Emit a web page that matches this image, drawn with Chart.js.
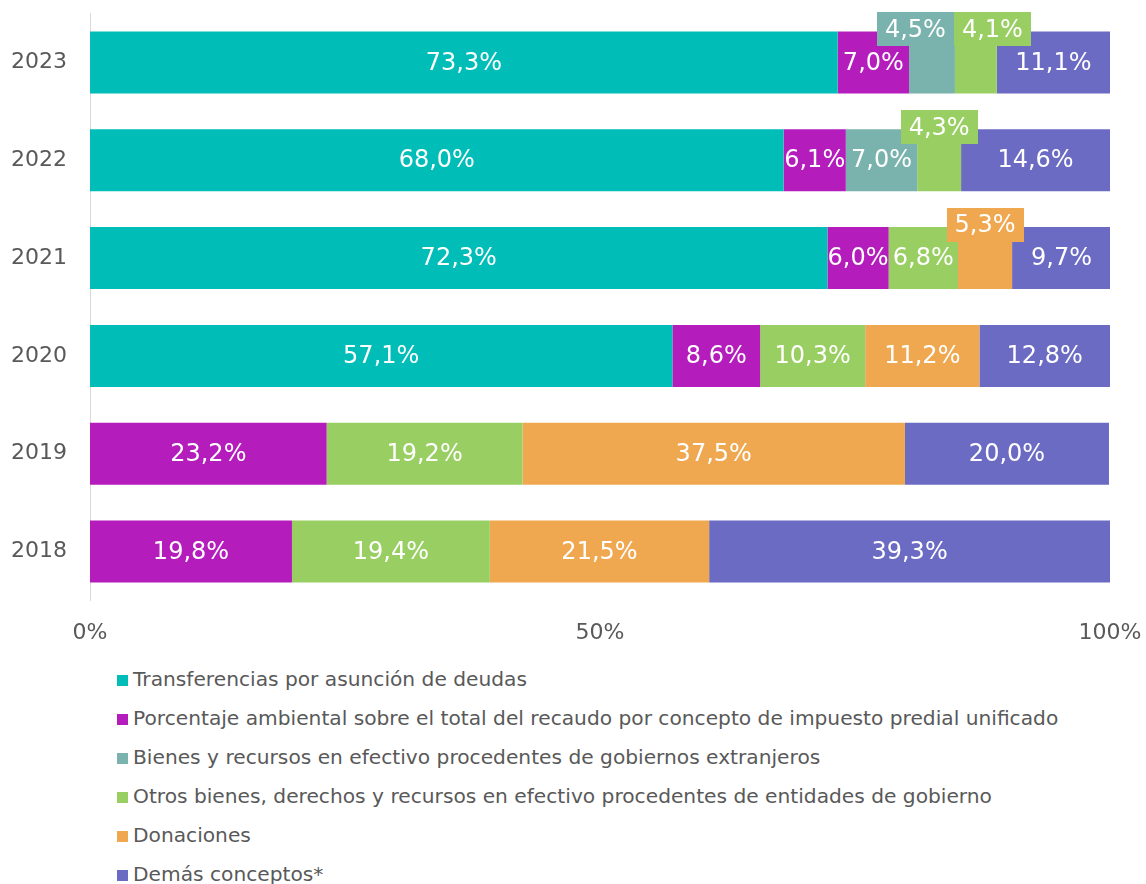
<!DOCTYPE html>
<html>
<head>
<meta charset="utf-8">
<script src="https://cdn.jsdelivr.net/npm/chart.js@4"></script>
<style>
  html, body { margin: 0; padding: 0; background: #fff; }
  body { width: 1146px; height: 884px; overflow: hidden; font-family: Verdana, "DejaVu Sans", sans-serif; }
  #wrap { position: relative; width: 1146px; height: 655px; }
  #legend { list-style: none; margin: 0; padding: 0; position: absolute; left: 117px; top: 660px; }
  #legend li { height: 39px; line-height: 39px; font-size: 20.2px; color: #595959; white-space: nowrap; }
  #legend i { display: inline-block; width: 11px; height: 11px; margin-right: 5px; vertical-align: 0; }
</style>
</head>
<body>
<div id="wrap"><canvas id="chart"></canvas></div>
<ul id="legend"></ul>
<script>
const FONT = 'Verdana, "DejaVu Sans", sans-serif';
const INK = '#595959';

const years = ['2023', '2022', '2021', '2020', '2019', '2018'];
const seriesNames = [
  'Transferencias por asunción de deudas',
  'Porcentaje ambiental sobre el total del recaudo por concepto de impuesto predial unificado',
  'Bienes y recursos en efectivo procedentes de gobiernos extranjeros',
  'Otros bienes, derechos y recursos en efectivo procedentes de entidades de gobierno',
  'Donaciones',
  'Demás conceptos*',
];
const seriesColors = ['#00bdb8', '#b41cbc', '#7ab3ad', '#99cf62', '#f0a850', '#6c6bc4'];

const transferencias = [73.3, 68.0, 72.3, 57.1, 0, 0];
const ambiental = [7.0, 6.1, 6.0, 8.6, 23.2, 19.8];
const extranjeros = [4.5, 7.0, 0, 0, 0, 0];
const otrosBienes = [4.1, 4.3, 6.8, 10.3, 19.2, 19.4];
const donaciones = [0, 0, 5.3, 11.2, 37.5, 21.5];
const demas = [11.1, 14.6, 9.7, 12.8, 20.0, 39.3];
const seriesValues = [transferencias, ambiental, extranjeros, otrosBienes, donaciones, demas];

const xTicks = [0, 50, 100];

const fmt = (v) => v.toFixed(1).replace('.', ',') + '%';

// Labels inside each segment; when the text does not fit, put it in a box above the bar
const segmentLabels = {
  id: 'segmentLabels',
  afterDatasetsDraw(chart) {
    const ctx = chart.ctx;
    ctx.save();
    ctx.font = '24px ' + FONT;
    ctx.textAlign = 'center';
    ctx.textBaseline = 'middle';
    const callouts = {};
    chart.data.datasets.forEach((ds, di) => {
      chart.getDatasetMeta(di).data.forEach((bar, i) => {
        const v = ds.data[i];
        if (!v) return;
        const left = Math.min(bar.base, bar.x);
        const right = Math.max(bar.base, bar.x);
        const text = fmt(v);
        const tw = ctx.measureText(text).width;
        if (tw > right - left + 2) {
          (callouts[i] = callouts[i] || []).push({
            text, color: ds.backgroundColor, cx: (left + right) / 2,
            w: Math.max(77, tw + 16), top: bar.y - bar.height / 2,
          });
        } else {
          ctx.fillStyle = '#fff';
          ctx.fillText(text, (left + right) / 2, bar.y + 1);
        }
      });
    });
    for (const row of Object.values(callouts)) {
      row.sort((a, b) => a.cx - b.cx);
      for (let k = 1; k < row.length; k++) {
        const a = row[k - 1], b = row[k];
        const overlap = (a.w + b.w) / 2 - (b.cx - a.cx);
        if (overlap > 0) { a.cx -= overlap / 2; b.cx += overlap / 2; }
      }
      for (const c of row) {
        const h = 34;
        const cy = c.top - 2;
        ctx.fillStyle = c.color;
        ctx.fillRect(Math.round(c.cx - c.w / 2), Math.round(cy - h / 2), Math.round(c.w), h);
        ctx.fillStyle = '#fff';
        ctx.fillText(c.text, c.cx, cy + 1);
      }
    }
    ctx.restore();
  },
};

new Chart(document.getElementById('chart'), {
  type: 'bar',
  data: {
    labels: years,
    datasets: seriesNames.map((name, k) => ({
      label: name,
      data: seriesValues[k],
      backgroundColor: seriesColors[k],
      borderWidth: 0,
      categoryPercentage: 0.633,
      barPercentage: 1,
    })),
  },
  options: {
    indexAxis: 'y',
    responsive: true,
    maintainAspectRatio: false,
    animation: false,
    events: [],
    layout: { padding: { top: 13.5, right: 36, left: 0, bottom: 0 } },
    scales: {
      x: {
        stacked: true,
        min: 0,
        max: 100,
        afterBuildTicks: (s) => { s.ticks = xTicks.map((v) => ({ value: v })); },
        afterFit: (s) => { s.height = 54.5; s.paddingLeft = 0; s.paddingRight = 0; },
        grid: { display: false },
        border: { display: false },
        ticks: { color: INK, font: { family: FONT, size: 22 }, padding: 12, callback: (v) => v + '%', maxRotation: 0 },
      },
      y: {
        stacked: true,
        afterFit: (s) => { s.width = 90; s.paddingTop = 0; s.paddingBottom = 0; },
        grid: { display: false },
        border: { display: true, color: '#d9d9d9', width: 1 },
        ticks: { color: INK, font: { family: FONT, size: 22 }, padding: 15 },
      },
    },
    plugins: {
      legend: { display: false },
      tooltip: { enabled: false },
    },
  },
  plugins: [segmentLabels],
});

document.getElementById('legend').innerHTML = seriesNames
  .map((n, k) => `<li><i style="background:${seriesColors[k]}"></i>${n}</li>`).join('');
</script>
</body>
</html>
